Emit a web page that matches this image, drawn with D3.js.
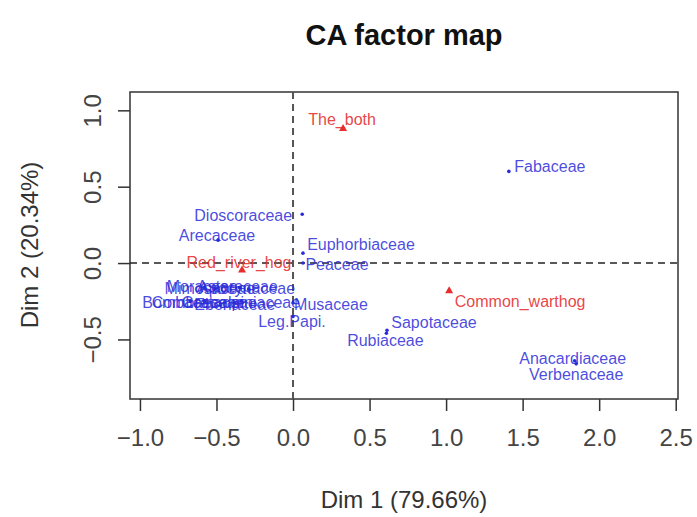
<!DOCTYPE html>
<html>
<head>
<meta charset="utf-8">
<script src="https://cdn.jsdelivr.net/npm/d3@7"></script>
<style>
  body { margin: 0; background: #fff; }
  text { font-family: "Liberation Sans", Arial, sans-serif; }
</style>
</head>
<body>
<script>
// row points (plant families)
var rowNames = ["Fabaceae", "Dioscoraceae", "Arecaceae", "Euphorbiaceae", "Peaceae",
    "Musaceae", "Leg.Papi.", "Sapotaceae", "Rubiaceae", "Anacardiaceae", "Verbenaceae",
    "Moraceae", "Mimosaceae", "Asteraceae", "Apocynaceae",
    "Bombacaceae", "Combretaceae", "Ebenaceae", "Caesalpiniaceae"];
var rowDim1 = [1.41, 0.06, -0.49, 0.065, 0.065, 0.0, 0.0, 0.614, 0.61, 1.84, 1.85,
    -0.58, -0.51, -0.35, -0.29, -0.67, -0.58, -0.38, -0.34];
var rowDim2 = [0.60, 0.32, 0.15, 0.065, 0.0, -0.26, -0.35, -0.44, -0.46, -0.64, -0.66,
    -0.16, -0.17, -0.16, -0.17, -0.25, -0.25, -0.26, -0.25];

// column points (animals)
var colNames = ["The_both", "Red_river_hog", "Common_warthog"];
var colDim1 = [0.327, -0.333, 1.02];
var colDim2 = [0.88, -0.046, -0.183];

var xTicks = [-1.0, -0.5, 0.0, 0.5, 1.0, 1.5, 2.0, 2.5];
var yTicks = [-0.5, 0.0, 0.5, 1.0];
var xLim = [-1.065, 2.515], yLim = [-0.89, 1.12];

// label offsets (px) from the point, as placed in the original plot
var nudge = {
  "Fabaceae": [41, -5], "Dioscoraceae": [-59, 1], "Arecaceae": [-1, -5],
  "Euphorbiaceae": [58, -9], "Peaceae": [34, 1], "Musaceae": [38, 2],
  "Leg.Papi.": [-1, 5], "Sapotaceae": [47, -8], "Rubiaceae": [-1, 7],
  "Anacardiaceae": [-2, -2], "Verbenaceae": [0, 11],
  "Moraceae": [-2, -1], "Mimosaceae": [-5, -1], "Asteraceae": [-2, -1], "Apocynaceae": [-2, -1],
  "Bombacaceae": [3, 1], "Combretaceae": [0, 1], "Ebenaceae": [0, 2], "Caesalpiniaceae": [0, 1],
  "The_both": [-1, -9], "Red_river_hog": [-3, -8], "Common_warthog": [71, 10]
};

var width = 697, height = 517;
var blue = "#2b2bd9", red = "#e62e2e";

var svg = d3.select("body").append("svg")
    .attr("width", width)
    .attr("height", height);

var x = d3.scaleLinear().domain(xLim).range([130, 678]);
var y = d3.scaleLinear().domain(yLim).range([399, 92]);

// title
svg.append("text")
    .attr("x", 404).attr("y", 45)
    .attr("text-anchor", "middle")
    .style("font-size", "29px").style("font-weight", "bold")
    .attr("fill", "#111")
    .text("CA factor map");

// box
svg.append("rect")
    .attr("x", x(xLim[0])).attr("y", y(yLim[1]))
    .attr("width", x(xLim[1]) - x(xLim[0]))
    .attr("height", y(yLim[0]) - y(yLim[1]))
    .attr("fill", "none").attr("stroke", "#333").attr("stroke-width", 1.5);

// axes
var xAxis = svg.append("g")
    .attr("transform", "translate(0," + y(yLim[0]) + ")")
    .call(d3.axisBottom(x).tickValues(xTicks).tickFormat(d3.format(".1f"))
        .tickSize(12).tickPadding(18));
var yAxis = svg.append("g")
    .attr("transform", "translate(" + x(xLim[0]) + ",0)")
    .call(d3.axisLeft(y).tickValues(yTicks).tickFormat(d3.format(".1f"))
        .tickSize(12).tickPadding(14));

[xAxis, yAxis].forEach(function(a) {
  a.select(".domain").remove();
  a.selectAll(".tick line").attr("stroke", "#333").attr("stroke-width", 1.5);
  a.selectAll(".tick text").attr("fill", "#444")
      .style("font-size", "24px").style("font-family", "Liberation Sans, Arial, sans-serif");
});
yAxis.selectAll(".tick text")
    .attr("transform", "rotate(-90)")
    .attr("text-anchor", "middle")
    .attr("dy", "0em")
    .attr("x", 0)
    .attr("y", -29);

// axis titles
svg.append("text")
    .attr("x", 404).attr("y", 508)
    .attr("text-anchor", "middle")
    .style("font-size", "24px").attr("fill", "#333")
    .text("Dim 1 (79.66%)");
svg.append("text")
    .attr("transform", "translate(38,245) rotate(-90)")
    .attr("text-anchor", "middle")
    .style("font-size", "24px").attr("fill", "#333")
    .text("Dim 2 (20.34%)");

// dashed zero lines
svg.append("line")
    .attr("x1", x(xLim[0])).attr("x2", x(xLim[1]))
    .attr("y1", y(0)).attr("y2", y(0))
    .attr("stroke", "#222").attr("stroke-width", 1.5).attr("stroke-dasharray", "7,5");
svg.append("line")
    .attr("x1", x(0)).attr("x2", x(0))
    .attr("y1", y(yLim[0])).attr("y2", y(yLim[1]))
    .attr("stroke", "#555").attr("stroke-width", 2).attr("stroke-dasharray", "7,5");

var rows = rowNames.map(function(n, i) { return {name: n, d1: rowDim1[i], d2: rowDim2[i]}; });
var cols = colNames.map(function(n, i) { return {name: n, d1: colDim1[i], d2: colDim2[i]}; });

// row points
svg.append("g").selectAll("circle")
    .data(rows).enter().append("circle")
    .attr("cx", function(d) { return x(d.d1); })
    .attr("cy", function(d) { return y(d.d2); })
    .attr("r", 1.8)
    .attr("fill", blue);

svg.append("g").selectAll("text")
    .data(rows).enter().append("text")
    .attr("x", function(d) { return x(d.d1) + nudge[d.name][0]; })
    .attr("y", function(d) { return y(d.d2) + nudge[d.name][1]; })
    .attr("text-anchor", "middle")
    .attr("dominant-baseline", "central")
    .style("font-size", "16px")
    .attr("fill", blue).attr("fill-opacity", 0.85)
    .text(function(d) { return d.name; });

// column points
svg.append("g").selectAll("path")
    .data(cols).enter().append("path")
    .attr("transform", function(d) { return "translate(" + x(d.d1) + "," + y(d.d2) + ")"; })
    .attr("d", d3.symbol().type(d3.symbolTriangle).size(28))
    .attr("fill", red);

svg.append("g").selectAll("text")
    .data(cols).enter().append("text")
    .attr("x", function(d) { return x(d.d1) + nudge[d.name][0]; })
    .attr("y", function(d) { return y(d.d2) + nudge[d.name][1]; })
    .attr("text-anchor", "middle")
    .attr("dominant-baseline", "central")
    .style("font-size", "16px")
    .attr("fill", red).attr("fill-opacity", 0.9)
    .text(function(d) { return d.name; });
</script>
</body>
</html>
